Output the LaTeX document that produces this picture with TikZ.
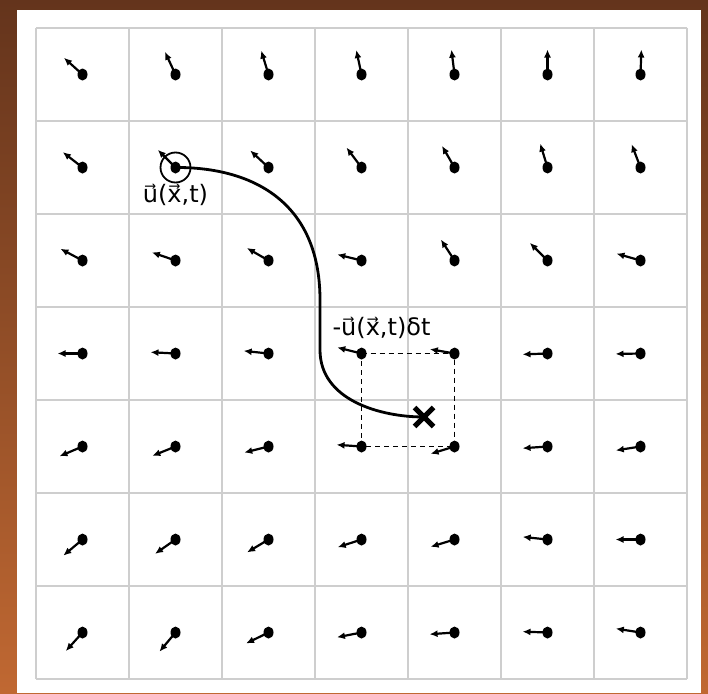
\documentclass[tikz,border=0pt]{standalone}
\usepackage{fontspec}
\setmainfont{DejaVu Sans}
\usepackage{tikz}
\usetikzlibrary{arrows.meta,positioning,shapes.geometric,shapes.misc}
\definecolor{bgtop}{RGB}{100,52,28}
\definecolor{bgbottom}{RGB}{192,104,50}
\definecolor{gridgray}{RGB}{206,206,206}

\begin{document}
\begin{tikzpicture}[x=1pt, y=-1pt,
    cell/.style={draw=gridgray, line width=1.6pt},
    dot/.style={ellipse, fill=black, inner sep=0pt, minimum width=10pt, minimum height=12pt},
    vel/.style={-{Latex[length=8pt,width=7pt]}, line width=2.2pt},
    probe/.style={circle, draw, line width=1.8pt, minimum size=30pt, inner sep=0pt},
    target/.style={cross out, draw, line width=5pt, minimum size=14pt, inner sep=0pt},
    trace/.style={line width=2.8pt},
    cellbox/.style={line width=1.6pt, dash pattern=on 5pt off 4pt},
    lbl/.style={font=\fontsize{24}{27}\selectfont, inner sep=1pt}
]
    \useasboundingbox (0,0) rectangle (708,693);
    \shade[top color=bgtop, bottom color=bgbottom] (0,0) rectangle (708,693);
    \fill[white] (17,10) rectangle (701,693);

    % grid cells
    \foreach \k in {0,...,7} {
        \draw[cell] (36+93*\k,28) -- (36+93*\k,679);
        \draw[cell] (36,28+93*\k) -- (687,28+93*\k);
    }

    % velocity samples, one per cell (angles in degrees)
    \foreach \r/\angs in {1/{138,115,107,102,97,90,88},
                          2/{142,135,137,127,120,107,111},
                          3/{152,161,150,166,123,135,164},
                          4/{180,177,174,166,170,182,181},
                          5/{203,202,194,176,197,184,189},
                          6/{220,215,211,198,197,174,180},
                          7/{228,230,206,191,184,178,171}} {
        \foreach \a [count=\c] in \angs {
            \node[dot] (p-\r-\c) at (82.5+93*\c-93, 74.5+93*\r-93) {};
            \draw[vel] (p-\r-\c.center) -- ++(-\a:25);
        }
    }

    \node[probe] (probe) at (p-2-2) {};
    \node[lbl, below=0pt of probe] (ulabel) {u⃗(x⃗,t)};

    \draw[cellbox] (p-4-4.center) -- (p-4-5.center) -- (p-5-5.center) -- (p-5-4.center) -- cycle;
    \node[target] (target) at (424,417) {};
    \draw[trace] (p-2-2.center) .. controls (250,167) and (320,200) .. (320,300)
        -- (320,350) .. controls (320,400) and (380,417) .. (target.center);
    \node[lbl, above=7pt of p-4-4, xshift=20pt] (dlabel) {-u⃗(x⃗,t)δt};
\end{tikzpicture}
\end{document}
